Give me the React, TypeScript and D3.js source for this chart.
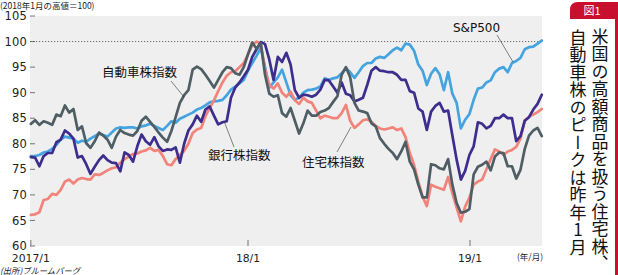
import React from 'react';
import * as d3 from 'd3';

// weekly closes, first week starting 2017-01-09, 121 weeks
const START_DATE = '2017-01-09';
const WEEK_COUNT = 121;

const autoIndex = [
  83.9, 84.6, 83.7, 84.4, 84.1, 83.7, 85.7, 85.4, 87.5, 86.1, 86.8, 82.7, 83.4, 80.1, 79.2, 80.5, 82.2, 81.6, 80.8, 79.2, 81.4, 82.7, 82.1, 81.8, 81.6,
  82.5, 84.5, 85.3, 84.3, 83.3, 82.2, 81.2, 80.4, 82.5, 85.2, 88.0, 89.5, 90.5, 94.5, 95.1, 94.6, 93.5, 92.3, 91.0, 92.5, 94.0, 95.0, 94.8, 93.8,
  93.5, 95.0, 97.5, 99.8, 98.6, 99.7, 93.5, 89.8, 89.2, 89.5, 86.0, 85.3, 87.0, 84.5, 82.0, 84.0, 86.5, 85.5, 85.5, 86.2, 86.5, 87.0, 88.2, 89.3,
  93.5, 95.0, 93.0, 88.0, 86.5, 86.3, 86.0, 84.0, 83.4, 81.1, 80.0, 79.0, 78.2, 77.0, 78.5, 80.4, 76.5, 75.0, 72.0, 69.5, 69.5, 76.0, 75.8, 75.2,
  75.0, 77.0, 72.0, 68.4, 66.5, 66.7, 67.2, 74.0, 75.5, 75.9, 76.5, 74.8, 77.5, 78.3, 78.2, 75.6, 75.6, 73.2, 74.9, 79.0, 81.6, 82.6, 83.1, 81.5,
];

const sp500 = [
  77.6, 77.6, 77.8, 78.3, 78.5, 79.0, 79.8, 80.8, 81.4, 81.2, 81.0, 80.2, 80.6, 80.4, 81.0, 81.5, 82.0, 81.7, 81.4, 82.2, 83.0, 83.2, 83.1, 83.2, 83.2,
  83.0, 83.4, 83.6, 83.9, 83.5, 83.1, 82.7, 83.5, 84.4, 84.1, 84.9, 85.3, 85.7, 86.1, 86.7, 87.0, 87.5, 88.1, 88.3, 88.4, 88.6, 89.5, 90.6, 91.2,
  91.8, 92.5, 94.3, 95.8, 97.2, 98.8, 95.0, 91.0, 92.0, 93.0, 94.5, 92.0, 89.5, 88.6, 89.0, 90.0, 90.5, 90.6, 90.8, 91.2, 92.8, 92.5, 92.8, 93.0,
  93.8, 94.8, 94.0, 92.9, 94.0, 95.2, 95.8, 95.8, 96.7, 97.0, 96.8, 97.5, 98.3, 98.8, 98.3, 99.6, 99.4, 98.2, 95.5, 94.3, 91.5, 93.7, 94.8, 93.6,
  90.5, 94.0, 89.8, 88.0, 83.0, 84.7, 85.8, 88.6, 90.8, 91.0, 92.0, 92.4, 94.0, 94.7, 95.0, 94.0, 95.8, 96.2, 96.8, 98.5, 98.9, 99.0, 99.6, 100.2,
];

const bankIndex = [
  77.4, 77.3, 75.6, 77.6, 78.2, 78.2, 80.3, 80.8, 82.6, 82.0, 81.0, 77.3, 77.6, 76.0, 74.1, 75.5, 76.8, 77.7, 76.8, 76.3, 76.2, 74.6, 78.3, 77.8, 76.5,
  79.5, 81.8, 80.5, 79.8, 81.3, 79.5, 78.6, 78.9, 78.8, 79.3, 76.3, 80.0, 82.6, 83.8, 85.5, 84.3, 86.7, 87.3, 85.5, 83.8, 84.2, 84.4, 89.0, 91.0,
  92.0, 93.2, 94.5, 97.0, 98.5, 99.9, 99.5, 96.5, 92.5, 97.0, 96.0, 97.8, 95.5, 90.5, 89.0, 89.6, 89.5, 89.2, 89.6, 90.6, 92.5, 92.4, 91.2, 90.0,
  92.0, 89.8, 89.5, 88.3, 88.6, 89.0, 91.5, 94.3, 95.0, 94.3, 94.2, 94.0, 94.0, 93.5, 92.5, 92.5, 90.3, 90.0, 86.9, 86.3, 82.7, 86.3, 87.4, 88.0,
  86.3, 86.5, 81.6, 76.9, 73.0, 74.7, 77.8, 79.5, 84.2, 83.9, 83.0, 83.5, 85.0, 85.0, 85.7, 85.0, 85.0, 80.5, 81.5, 84.5, 85.2, 86.7, 87.8, 89.6,
];

const housingIndex = [
  66.1, 66.2, 66.6, 69.0, 69.2, 70.2, 70.0, 71.0, 72.6, 73.0, 72.2, 73.0, 73.3, 73.1, 73.0, 74.0, 73.9, 74.3, 74.8, 75.2, 75.4, 76.3, 77.0, 77.5, 78.0,
  78.1, 78.5, 78.7, 79.2, 78.6, 78.8, 77.6, 76.0, 75.8, 77.0, 77.8, 78.6, 80.0, 82.1, 82.8, 83.1, 85.4, 87.0, 88.5, 90.3, 92.0, 93.3, 94.0, 94.2,
  95.0, 95.8, 97.5, 99.3, 100.0, 99.5, 94.5, 91.5, 90.8, 91.8, 90.0, 89.2, 90.2, 88.5, 87.8, 89.0, 88.3, 88.0, 86.5, 85.0, 85.5, 85.3, 85.0, 85.0,
  86.0, 87.6, 84.5, 83.1, 83.8, 84.6, 84.8, 84.3, 83.5, 83.0, 82.8, 83.0, 83.2, 82.7, 83.0, 81.3, 78.2, 75.9, 72.6, 69.7, 67.8, 72.0, 71.6, 71.3,
  71.0, 73.5, 70.3, 67.5, 64.8, 67.7, 69.5, 72.0, 72.6, 73.0, 75.0, 77.0, 78.9, 78.5, 77.8, 78.5, 78.8, 79.4, 81.0, 84.6, 85.3, 85.7, 86.2, 86.8,
];

const yTickValues = [60, 65, 70, 75, 80, 85, 90, 95, 100, 105];
const xTickDates = ['2017-01-09', '2018-01-01', '2019-01-01'];
const xTickLabels = ['2017/1', '18/1', '19/1'];

const COLORS = {
  sp: '#45a3df',
  bank: '#3d2d8c',
  auto: '#4f5e65',
  housing: '#f2837a',
  red: '#c8102e',
};

const NUM_FONT = '"DejaVu Sans", "Liberation Sans", sans-serif';
const JP_FONT = '"Noto Sans CJK JP", "Noto Sans", sans-serif';

export default function App() {
  const W = 618;
  const H = 275;
  const plot = { left: 30, right: 542, top: 16, bottom: 246 };
  const parse = d3.timeParse('%Y-%m-%d');
  const start = parse(START_DATE) as Date;
  const dates = d3.range(WEEK_COUNT).map((i) => d3.timeWeek.offset(start, i));

  const x = d3
    .scaleTime()
    .domain([new Date(2017, 0, 1), new Date(2019, 4, 1)])
    .range([26, 543]);
  const y = d3.scaleLinear().domain([60, 105]).range([plot.bottom, plot.top]);

  const line = d3
    .line<number>()
    .x((_, i) => x(dates[i]))
    .y((d) => y(d));

  const series = [
    { key: 'sp', data: sp500, color: COLORS.sp },
    { key: 'housing', data: housingIndex, color: COLORS.housing },
    { key: 'bank', data: bankIndex, color: COLORS.bank },
    { key: 'auto', data: autoIndex, color: COLORS.auto },
  ];

  const leader = '#333';

  return (
    <div style={{ position: 'absolute', left: 0, top: 0 }}>
      <svg width={W} height={H} viewBox={`0 0 ${W} ${H}`} style={{ display: 'block', background: '#fff' }}>
        {/* plot background */}
        <rect x={plot.left} y={plot.top} width={plot.right - plot.left} height={plot.bottom - plot.top} fill="#efefef" />

        {/* 100 reference line */}
        <line
          x1={plot.left}
          x2={plot.right}
          y1={y(100)}
          y2={y(100)}
          stroke="#666"
          strokeWidth={1}
          strokeDasharray="1.2,1.8"
        />

        {/* y ticks + labels */}
        {yTickValues.map((v) => (
          <g key={v}>
            <line x1={plot.left} x2={plot.left + 5} y1={y(v)} y2={y(v)} stroke="#555" strokeWidth={0.8} />
            <text
              x={27}
              y={y(v)}
              dy="0.36em"
              textAnchor="end"
              fontFamily={NUM_FONT}
              fontSize={11.5}
              fill="#222"
              letterSpacing={0.2}
            >
              {v}
            </text>
          </g>
        ))}

        {/* x ticks + labels */}
        {xTickDates.map((ds, i) => {
          const xx = Math.max(plot.left + 0.5, x(parse(ds) as Date));
          return (
            <g key={ds}>
              <line x1={xx} x2={xx} y1={plot.bottom - 6} y2={plot.bottom} stroke="#555" strokeWidth={0.8} />
              <text x={xx} y={262} textAnchor="middle" fontFamily={NUM_FONT} fontSize={10.8} fill="#222">
                {xTickLabels[i]}
              </text>
            </g>
          );
        })}
        <text x={530} y={260} textAnchor="middle" fontFamily={JP_FONT} fontSize={8.5} fill="#222">
          (年/月)
        </text>

        {/* series */}
        {series.map((s) => (
          <path
            key={s.key}
            d={line(s.data) || ''}
            fill="none"
            stroke={s.color}
            strokeWidth={2.7}
            strokeLinejoin="round"
            strokeLinecap="round"
          />
        ))}

        {/* labels with leader lines */}
        <text x={102} y={77} fontFamily={JP_FONT} fontSize={12.5} fill="#111">
          自動車株指数
        </text>
        <line x1={171} y1={81} x2={184} y2={97} stroke={leader} strokeWidth={0.6} />

        <text x={208} y={160} fontFamily={JP_FONT} fontSize={12.5} fill="#111">
          銀行株指数
        </text>
        <line x1={224} y1={121} x2={234} y2={147} stroke={leader} strokeWidth={0.6} />

        <text x={302} y={167} fontFamily={JP_FONT} fontSize={12.5} fill="#111">
          住宅株指数
        </text>
        <line x1={337} y1={152} x2={351} y2={127} stroke={leader} strokeWidth={0.6} />

        <text x={453} y={32} fontFamily={NUM_FONT} fontSize={12} fill="#111">
          S&amp;P500
        </text>
        <line x1={497} y1={35} x2={513} y2={62} stroke={leader} strokeWidth={0.6} />

        {/* header / source */}
        <text x={0} y={8.5} fontFamily={JP_FONT} fontSize={8.5} fill="#222">
          (2018年1月の高値＝100)
        </text>
        <text x={0} y={274} fontFamily={JP_FONT} fontSize={8.3} fill="#222" fontStyle="italic">
          (出所)ブルームバーグ
        </text>

        {/* right title panel */}
        <path d="M570,19 V10 Q570,2 578,2 H618 V19 Z" fill={COLORS.red} />
        <rect x={615} y={2} width={3} height={H - 2} fill={COLORS.red} />
        <text x={592} y={14.5} textAnchor="middle" fontFamily={JP_FONT} fontSize={11} fill="#fff">
          図1
        </text>
        <text
          x={600}
          y={28}
          fontFamily={JP_FONT}
          fontSize={17}
          fill="#111"
          letterSpacing={0.5}
          style={{ writingMode: 'vertical-rl', textOrientation: 'upright' } as React.CSSProperties}
        >
          米国の高額商品を扱う住宅株、
        </text>
        <text
          x={578}
          y={29}
          fontFamily={JP_FONT}
          fontSize={17}
          fill="#111"
          letterSpacing={0.5}
          style={{ writingMode: 'vertical-rl', textOrientation: 'upright' } as React.CSSProperties}
        >
          自動車株のピークは昨年1月
        </text>
      </svg>
    </div>
  );
}
